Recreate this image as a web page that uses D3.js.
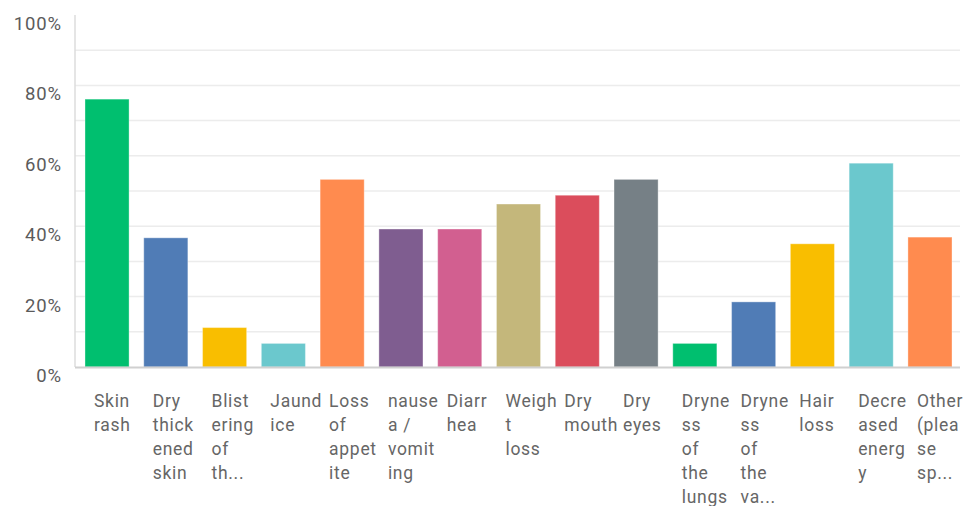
<!DOCTYPE html>
<html>
<head>
<meta charset="utf-8">
<script src="https://cdnjs.cloudflare.com/ajax/libs/d3/7.8.5/d3.min.js"></script>
<style>
  body { margin: 0; background: #fff; }
  svg { display: block; font-family: Roboto, "Open Sans", sans-serif; }
</style>
</head>
<body>
<div id="chart"></div>
<script>
// answer choices, already wrapped the way the survey tool breaks them
var categories = ["Skin rash", "Dry thickened skin", "Blistering of th...", "Jaundice",
  "Loss of appetite", "nausea / vomiting", "Diarrhea", "Weight loss", "Dry mouth",
  "Dry eyes", "Dryness of the lungs", "Dryness of the va...", "Hair loss",
  "Decreased energy", "Other (please sp..."];
var labelLines = [
  ["Skin", "rash"],
  ["Dry", "thick", "ened", "skin"],
  ["Blist", "ering", "of", "th..."],
  ["Jaund", "ice"],
  ["Loss", "of", "appet", "ite"],
  ["nause", "a /", "vomit", "ing"],
  ["Diarr", "hea"],
  ["Weigh", "t", "loss"],
  ["Dry", "mouth"],
  ["Dry", "eyes"],
  ["Dryne", "ss", "of", "the", "lungs"],
  ["Dryne", "ss", "of", "the", "va..."],
  ["Hair", "loss"],
  ["Decre", "ased", "energ", "y"],
  ["Other", "(plea", "se", "sp..."]
];
// percent of respondents
var values = [76.1, 36.7, 11.2, 6.7, 53.3, 39.2, 39.2, 46.3, 48.8, 53.3, 6.7, 18.5, 35.0, 57.9, 36.9];
var colors = ["#00bf6f", "#507cb6", "#f9be00", "#6bc8cd", "#ff8b4f", "#7f5d90", "#d25f90",
  "#c4b77b", "#db4d5c", "#768086", "#00bf6f", "#507cb6", "#f9be00", "#6bc8cd", "#ff8b4f"];
var yTicks = [0, 20, 40, 60, 80, 100];
var gridTicks = [10, 20, 30, 40, 50, 60, 70, 80, 90];

// plot box (note: "top" is a reserved window global, so prefix these)
var W = 966, H = 506,
    pLeft = 75, pRight = 960, pTop = 15, pBottom = 367;

var svg = d3.select("#chart").append("svg")
    .attr("width", W)
    .attr("height", H);

var x = d3.scaleBand()
    .domain(categories)
    .range([pLeft, pRight + 2])
    .paddingInner(0.25)
    .paddingOuter(0.17);

var y = d3.scaleLinear()
    .domain([0, 100])
    .range([pBottom, pTop]);

// light horizontal grid
svg.append("g").selectAll("line")
    .data(gridTicks)
    .enter().append("line")
      .attr("x1", pLeft)
      .attr("x2", pRight)
      .attr("y1", function(d) { return y(d); })
      .attr("y2", function(d) { return y(d); })
      .attr("stroke", "#ececec")
      .attr("stroke-width", 1.5);

// left axis line
svg.append("line")
    .attr("x1", pLeft).attr("x2", pLeft)
    .attr("y1", y(100)).attr("y2", y(0))
    .attr("stroke", "#dcdcdc")
    .attr("stroke-width", 1.5);

svg.append("g").selectAll("rect")
    .data(values)
    .enter().append("rect")
      .attr("x", function(d, i) { return x(categories[i]); })
      .attr("y", function(d) { return y(d); })
      .attr("width", x.bandwidth())
      .attr("height", function(d) { return y(0) - y(d); })
      .attr("fill", function(d, i) { return colors[i]; })
      .attr("stroke", "#ffffff")
      .attr("stroke-opacity", 0.35)
      .attr("stroke-width", 1);

// baseline
svg.append("line")
    .attr("x1", pLeft).attr("x2", pRight)
    .attr("y1", y(0) + 0.5).attr("y2", y(0) + 0.5)
    .attr("stroke", "#d0d0d0")
    .attr("stroke-width", 2);

// y tick labels sit a little below their line
svg.append("g").selectAll("text")
    .data(yTicks)
    .enter().append("text")
      .attr("x", 62)
      .attr("y", function(d) { return y(d) + 15; })
      .attr("text-anchor", "end")
      .attr("fill", "#5b5b5b")
      .style("font-size", "18.5px")
      .style("letter-spacing", "0.9px")
      .text(function(d) { return d + "%"; });

// x labels, one tspan per wrapped line
var lab = svg.append("g").selectAll("text")
    .data(categories)
    .enter().append("text")
      .attr("fill", "#666666")
      .style("font-size", "17.5px")
      .style("letter-spacing", "0.7px");

lab.each(function(c, i) {
  var t = d3.select(this);
  labelLines[i].forEach(function(line, j) {
    t.append("tspan")
      .attr("x", x(c) + 9)
      .attr("y", 407 + j * 24)
      .text(line);
  });
});
</script>
</body>
</html>
